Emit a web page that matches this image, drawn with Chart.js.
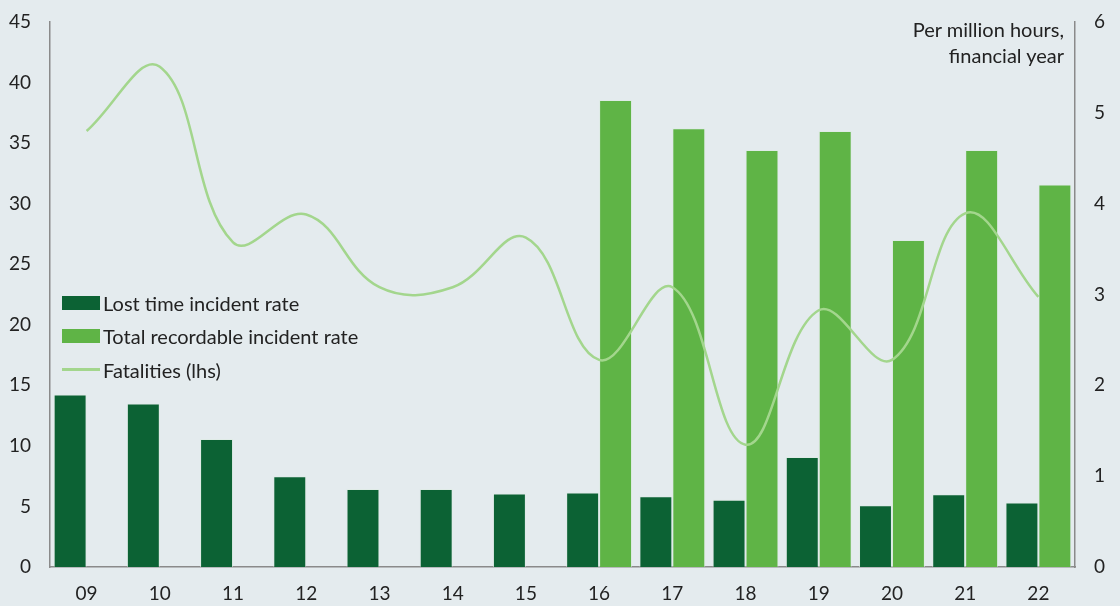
<!DOCTYPE html>
<html><head><meta charset="utf-8">
<script src="https://cdn.jsdelivr.net/npm/chart.js@4/dist/chart.umd.min.js"></script>
<style>
html,body{margin:0;padding:0;background:#e4ebee;}
#wrap{position:relative;width:1120px;height:606px;}
#legend{position:absolute;left:62px;top:286px;font-family:Lato,"Noto Sans",sans-serif;font-size:20px;color:#222;}
.li{display:flex;align-items:center;height:33.5px;}
.sw{width:38px;height:14px;margin-right:3px;}
.ln{width:38px;height:3px;margin-right:3px;background:#a3d68d;}
#note{position:absolute;right:56px;top:16px;text-align:right;font-family:Lato,"Noto Sans",sans-serif;font-size:20px;color:#222;line-height:26px;}
</style></head>
<body><div id="wrap"><canvas id="c" width="1120" height="606"></canvas>
<div id="legend">
<div class="li"><div class="sw" style="background:#0c6234"></div>Lost time incident rate</div>
<div class="li"><div class="sw" style="background:#5fb446"></div>Total recordable incident rate</div>
<div class="li"><div class="ln"></div>Fatalities (lhs)</div>
</div>
<div id="note">Per million hours,<br>financial year</div>
</div>
<script>
const categories = ["09","10","11","12","13","14","15","16","17","18","19","20","21","22"];
const lostTime = [1.90,1.80,1.41,1.00,0.86,0.86,0.81,0.82,0.78,0.74,1.21,0.68,0.80,0.71];
const totalRecordable = [null,null,null,null,null,null,null,5.14,4.83,4.59,4.80,3.60,4.59,4.21];
const fatalities = [36.0,41.3,26.8,29.1,23.1,23.1,27.2,17.1,23.1,10.1,21.2,17.1,29.2,22.3];
const leftTicks = [0,5,10,15,20,25,30,35,40,45];
const rightTicks = [0,1,2,3,4,5,6];

const font = {family:'Lato, "Noto Sans", sans-serif', size:19};
new Chart(document.getElementById('c'), {
  data: {
    labels: categories,
    datasets: [
      {type:'line', label:'Fatalities (lhs)', data:fatalities, yAxisID:'y', borderColor:'#a3d68d', borderWidth:2.5, pointRadius:0, tension:0.4, order:0},
      {type:'bar', label:'Lost time incident rate', data:lostTime, yAxisID:'y1', backgroundColor:'#0c6234', borderColor:'rgba(220,235,225,0.6)', borderWidth:1, categoryPercentage:0.9, barPercentage:1.0, order:1},
      {type:'bar', label:'Total recordable incident rate', data:totalRecordable, yAxisID:'y1', backgroundColor:'#5fb446', borderColor:'rgba(220,235,225,0.6)', borderWidth:1, categoryPercentage:0.9, barPercentage:1.0, order:1}
    ]
  },
  options: {
    responsive:false, animation:false,
    layout:{padding:{top:22,left:0,right:0,bottom:0}},
    plugins:{legend:{display:false}, tooltip:{enabled:false}},
    scales:{
      x:{grid:{display:false, drawTicks:false}, border:{color:'#8a8a8a', width:1.5},
         ticks:{color:'#222', font:font, padding:15, maxRotation:0},
         afterFit(s){s.height=39; s.paddingLeft=0; s.paddingRight=0;}},
      y:{position:'left', min:0, max:45, grid:{display:false, drawTicks:false}, border:{color:'#8a8a8a', width:1.5},
         afterBuildTicks(s){s.ticks=leftTicks.map(v=>({value:v}));},
         ticks:{color:'#222', font:font, padding:19},
         afterFit(s){s.width=50; s.paddingTop=0; s.paddingBottom=0;}},
      y1:{position:'right', min:0, max:6, grid:{display:false, drawTicks:false}, border:{color:'#8a8a8a', width:1.5},
         afterBuildTicks(s){s.ticks=rightTicks.map(v=>({value:v}));},
         ticks:{color:'#222', font:font, padding:19},
         afterFit(s){s.width=45; s.paddingTop=0; s.paddingBottom=0;}}
    }
  }
});
</script></body></html>
